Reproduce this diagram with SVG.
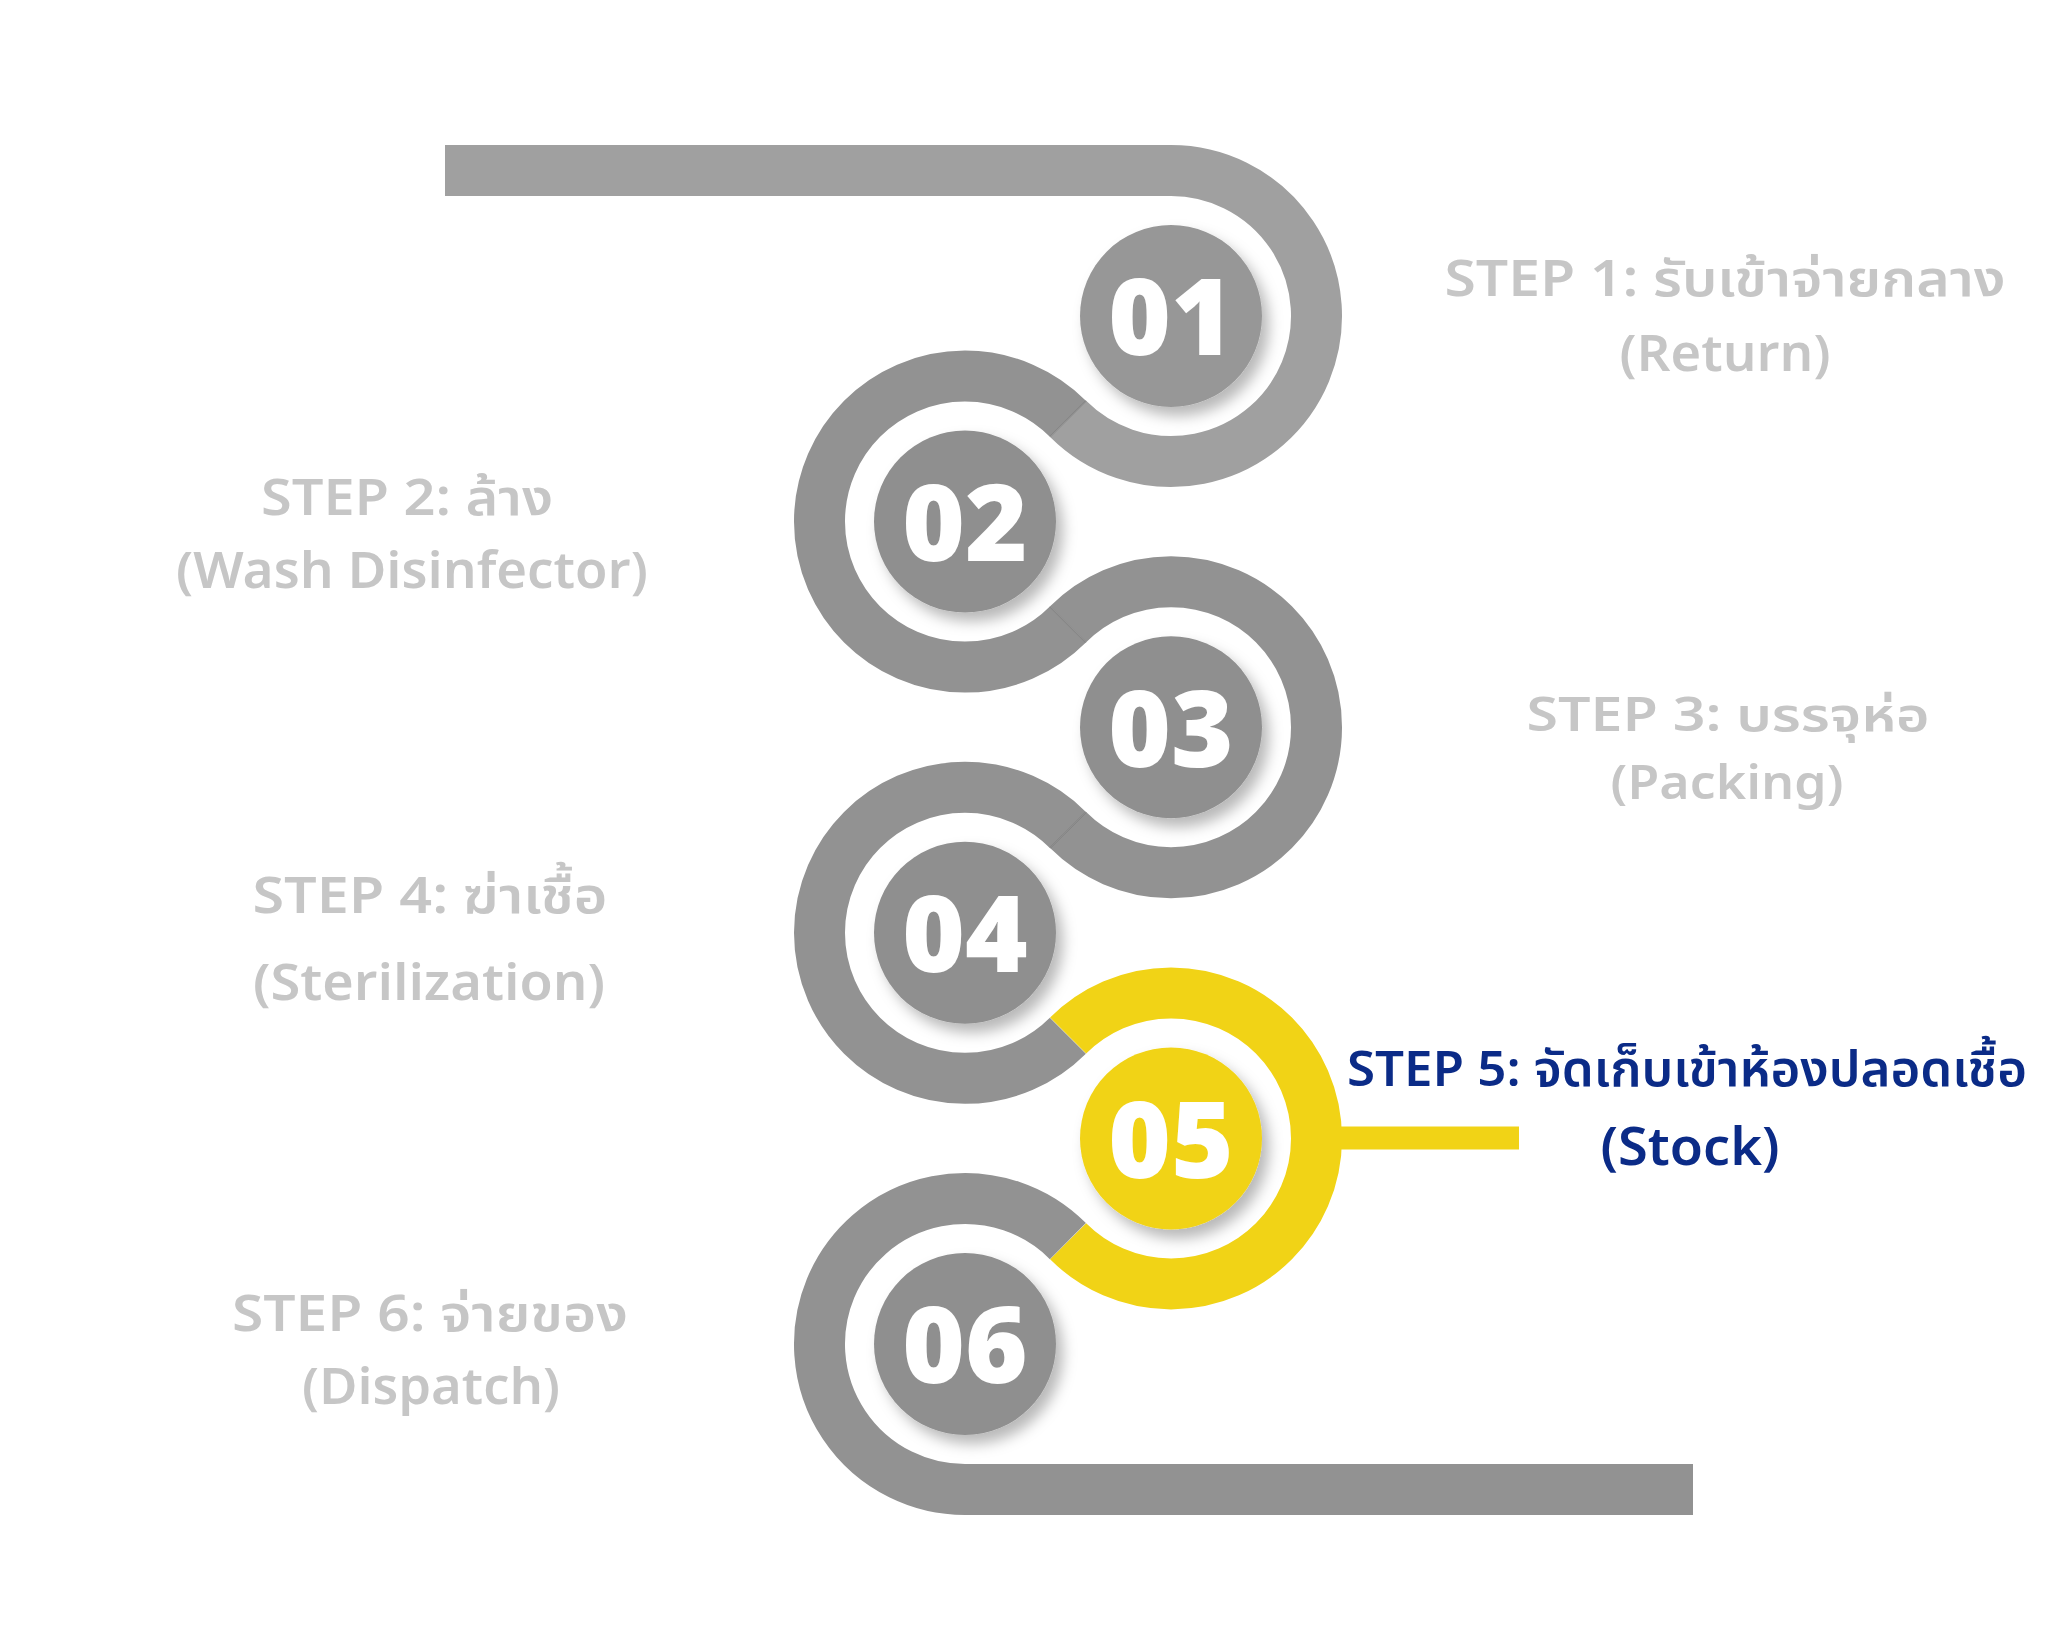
<svg xmlns="http://www.w3.org/2000/svg" width="2048" height="1650" viewBox="0 0 2048 1650">
<style>
.band{fill:none;stroke-width:51;stroke-linecap:butt}
.g1{stroke:#A0A0A0}
.g2{stroke:#929292}
.yb{stroke:#F1D316}
.seam{stroke:#6E6E6E;stroke-width:1.4;stroke-opacity:0.6}
.num{font-family:'Open Sans','Noto Sans',sans-serif;font-weight:800;font-size:107px;fill:#FFFFFF;text-anchor:middle}
.lbl{font-family:'Noto Sans Thai','Noto Sans','Open Sans',sans-serif;font-weight:600;font-size:50px;fill:#C6C6C6;text-anchor:middle}
.lbl3{font-size:47px}
.lbl5{font-family:'Noto Sans Thai','Noto Sans','Open Sans',sans-serif;font-weight:600;font-size:53px;fill:#0B2B87;text-anchor:middle}
.lbl5a{font-size:49px}
</style>
<defs>
<filter id="sh" x="-30%" y="-30%" width="170%" height="170%">
<feDropShadow dx="7" dy="9" stdDeviation="7" flood-color="#000" flood-opacity="0.28"/>
</filter>
</defs>
<rect width="2048" height="1650" fill="#FFFFFF"/>
<g id="connectors">
<path class="band g1" d="M445 170.5 H1171 A145.5 145.5 0 1 1 1068.12 418.88"/>
<path class="band g2" d="M1067.88 418.72 A145.5 145.5 0 1 0 1067.88 624.48"/>
<path class="band g2" d="M1068.12 624.32 A145.5 145.5 0 1 1 1068.12 830.08"/>
<path class="band g2" d="M1067.88 829.92 A145.5 145.5 0 1 0 1067.88 1035.68"/>
<path class="band yb" d="M1068.12 1035.52 A145.5 145.5 0 1 1 1068.12 1241.28"/>
<path class="band g2" d="M1067.88 1241.12 A145.5 145.5 0 1 0 965 1489.5 H1693"/>
<line class="seam" x1="1086.1" y1="400.8" x2="1050.0" y2="436.8"/>
<line class="seam" x1="1049.9" y1="606.4" x2="1086.0" y2="642.4"/>
<line class="seam" x1="1086.1" y1="812.0" x2="1050.0" y2="848.0"/>
<rect x="1336" y="1126.5" width="183" height="23" fill="#F1D316"/>
</g>
<g id="step1">
<circle cx="1171" cy="316" r="91" fill="#979797" filter="url(#sh)"/>
<text class="num" x="1171" y="355">01</text>
<text class="lbl" x="1725" y="296" textLength="561" lengthAdjust="spacingAndGlyphs">STEP 1: รับเข้าจ่ายกลาง</text>
<text class="lbl" x="1725" y="371" textLength="211" lengthAdjust="spacingAndGlyphs">(Return)</text>
</g>
<g id="step2">
<circle cx="965" cy="521.6" r="91" fill="#8F8F8F" filter="url(#sh)"/>
<text class="num" x="965" y="561">02</text>
<text class="lbl" x="407" y="515" textLength="292" lengthAdjust="spacingAndGlyphs">STEP 2: ล้าง</text>
<text class="lbl" x="412" y="588" textLength="472" lengthAdjust="spacingAndGlyphs">(Wash Disinfector)</text>
</g>
<g id="step3">
<circle cx="1171" cy="727.2" r="91" fill="#8F8F8F" filter="url(#sh)"/>
<text class="num" x="1171" y="767">03</text>
<text class="lbl lbl3" x="1728" y="731" textLength="403" lengthAdjust="spacingAndGlyphs">STEP 3: บรรจุห่อ</text>
<text class="lbl lbl3" x="1727" y="799" textLength="233" lengthAdjust="spacingAndGlyphs">(Packing)</text>
</g>
<g id="step4">
<circle cx="965" cy="932.8" r="91" fill="#8F8F8F" filter="url(#sh)"/>
<text class="num" x="965" y="972">04</text>
<text class="lbl" x="430" y="913" textLength="355" lengthAdjust="spacingAndGlyphs">STEP 4: ฆ่าเชื้อ</text>
<text class="lbl" x="429" y="1000" textLength="352" lengthAdjust="spacingAndGlyphs">(Sterilization)</text>
</g>
<g id="step5">
<circle cx="1171" cy="1138.4" r="91" fill="#F1D316" filter="url(#sh)"/>
<text class="num" x="1171" y="1178">05</text>
<text class="lbl5 lbl5a" x="1687" y="1086" textLength="680" lengthAdjust="spacingAndGlyphs">STEP 5: จัดเก็บเข้าห้องปลอดเชื้อ</text>
<text class="lbl5" x="1690" y="1165" textLength="179" lengthAdjust="spacingAndGlyphs">(Stock)</text>
</g>
<g id="step6">
<circle cx="965" cy="1344" r="91" fill="#8F8F8F" filter="url(#sh)"/>
<text class="num" x="965" y="1383">06</text>
<text class="lbl" x="430" y="1331" textLength="396" lengthAdjust="spacingAndGlyphs">STEP 6: จ่ายของ</text>
<text class="lbl" x="431" y="1404" textLength="258" lengthAdjust="spacingAndGlyphs">(Dispatch)</text>
</g>
</svg>
